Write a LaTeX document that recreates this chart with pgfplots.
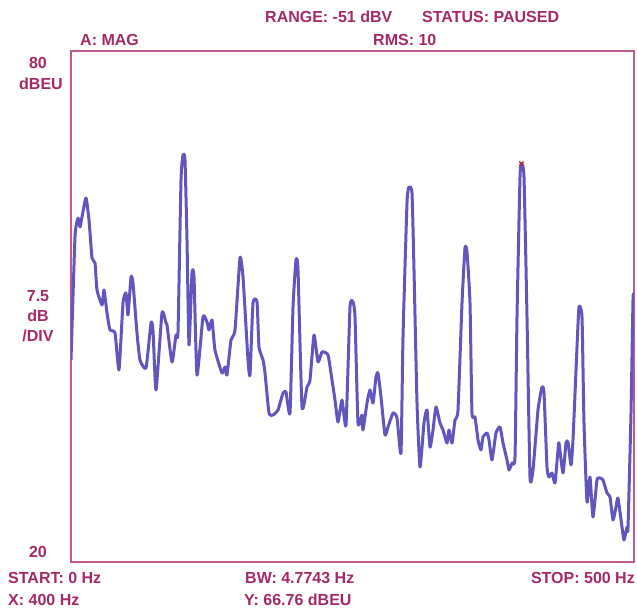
\documentclass[border=0pt]{standalone}
\usepackage{fontspec}
\setmainfont{Liberation Sans}
\usepackage{pgfplots}
\pgfplotsset{compat=1.18}
\definecolor{frame}{RGB}{190,90,145}
\definecolor{txt}{RGB}{165,40,105}
\definecolor{trace}{RGB}{98,86,190}
\definecolor{mk}{RGB}{170,45,70}
\begin{document}
\begin{tikzpicture}
\useasboundingbox (0pt,0pt) rectangle (637pt,610pt);
\begin{axis}[at={(71pt,48pt)}, anchor=south west, scale only axis,
  width=563pt, height=511pt, xmin=0, xmax=500, ymin=20, ymax=80,
  ticks=none, axis line style={color=frame, line width=1.2pt}]
\addplot[trace, line width=3pt, line join=round, smooth, tension=0.3] coordinates {
(0,43.72) (3.55,58.16) (6.22,60.39) (7.99,59.34) (9.77,60.51) (13.32,62.74)
(15.99,60.16) (18.65,55.70) (21.31,55.11) (23.09,51.94) (27.53,50.18) (29.31,51.94)
(31.97,49.24) (34.64,47.24) (39.08,46.89) (42.63,42.54) (46.18,50.41) (48.85,51.59)
(50.62,49.00) (53.29,53.46) (55.06,52.76) (58.61,46.89) (61.28,43.72) (66.61,42.78)
(71.05,48.06) (72.82,47.24) (75.49,40.20) (80.82,49.24) (84.37,48.06) (85.26,47.83)
(89.70,43.48) (93.25,46.65) (95.03,47.01) (97.69,64.85) (99.47,67.79) (101.24,67.20)
(103.02,57.81) (104.80,45.48) (107.46,53.93) (109.24,53.46) (111.90,41.96) (117.23,48.77)
(120.78,48.18) (122.56,47.24) (125.22,48.42) (127.89,44.89) (134.10,42.19) (136.77,42.90)
(138.54,41.96) (142.10,46.07) (145.65,47.24) (150.09,55.70) (152.75,53.46) (157.19,43.72)
(158.97,41.96) (161.63,50.41) (165.19,50.53) (166.96,45.25) (170.52,43.72) (172.29,42.19)
(175.84,37.50) (179.40,37.26) (183.84,37.85) (188.28,39.84) (190.94,39.96) (194.49,37.50)
(197.16,49.94) (199.82,55.46) (201.60,54.29) (205.15,38.20) (209.59,40.55) (212.26,41.37)
(215.81,46.65) (219.36,43.48) (222.91,44.66) (228.24,44.31) (231.79,41.37) (234.46,39.02)
(237.12,36.44) (240.68,39.02) (244.23,36.09) (247.78,49.94) (250.44,50.53) (252.22,48.77)
(254.88,36.32) (258.44,37.26) (259.33,35.50) (262.88,38.67) (265.54,40.20) (268.21,38.67)
(270.87,41.72) (272.65,42.19) (275.31,39.37) (278.86,34.91) (281.53,35.85) (285.97,37.50)
(289.52,36.91) (293.07,32.80) (294.85,46.42) (298.40,62.15) (300.18,64.03) (302.84,63.33)
(304.62,54.29) (307.28,38.67) (309.95,31.15) (313.50,36.32) (316.16,37.85) (318.83,33.50)
(321.49,35.50) (324.16,38.20) (327.71,36.32) (330.37,35.50) (333.93,33.97) (335.70,35.50)
(338.37,33.97) (341.03,36.67) (343.69,37.85) (347.25,50.41) (349.91,56.87) (351.69,56.40)
(354.35,50.41) (356.13,37.50) (358.79,37.03) (361.46,34.33) (364.12,33.15) (365.90,34.68)
(369.45,35.15) (371.23,34.33) (373.89,31.98) (377.44,35.15) (381.00,35.85) (383.66,33.97)
(387.21,31.98) (388.99,30.80) (391.65,31.62) (394.32,32.33) (396.09,48.77) (398.76,65.21)
(400,66.76) (402.31,65.21) (404.97,48.77) (407.64,29.98) (410.30,30.80) (414.74,37.85)
(418.29,40.55) (420.07,39.84) (422.74,31.15) (424.51,29.98) (427.18,30.45) (429.84,29.28)
(432.50,33.15) (433.39,33.97) (436.94,30.45) (439.60,33.97) (441.38,34.09) (444.05,31.39)
(445.82,34.33) (449.38,45.25) (451.15,49.94) (453.82,48.77) (455.59,36.32) (458.26,27.05)
(460.92,29.98) (463.59,25.28) (467.14,29.63) (469.80,29.86) (472.47,29.63) (476.02,28.10)
(478.69,27.63) (481.35,24.93) (484.01,26.46) (485.79,27.51) (489.34,24.11) (491.12,22.58)
(493.78,24.11) (494.67,23.99) (497.34,37.50) (499.11,50.76) (500,51.35)
};
\addplot[mk, only marks, mark=x, mark size=3pt, line width=1.4pt] coordinates {(400,66.76)};
\end{axis}
\begin{scope}[every node/.style={text=txt, font=\bfseries\fontsize{16}{18}\selectfont, inner sep=0pt}]
\node[anchor=west] at (265pt,593pt) {RANGE: -51 dBV};
\node[anchor=west] at (422pt,593pt) {STATUS: PAUSED};
\node[anchor=west] at (80pt,570pt) {A: MAG};
\node[anchor=west] at (373pt,570pt) {RMS: 10};
\node at (38pt,547pt) {80};
\node at (41pt,526pt) {dBEU};
\node at (38pt,314pt) {7.5};
\node at (38pt,294pt) {dB};
\node at (38pt,274pt) {/DIV};
\node at (38pt,58pt) {20};
\node[anchor=west] at (8pt,32pt) {START: 0 Hz};
\node[anchor=west] at (245pt,32pt) {BW: 4.7743 Hz};
\node[anchor=east] at (635pt,32pt) {STOP: 500 Hz};
\node[anchor=west] at (8pt,10pt) {X: 400 Hz};
\node[anchor=west] at (244pt,10pt) {Y: 66.76 dBEU};
\end{scope}
\end{tikzpicture}
\end{document}
